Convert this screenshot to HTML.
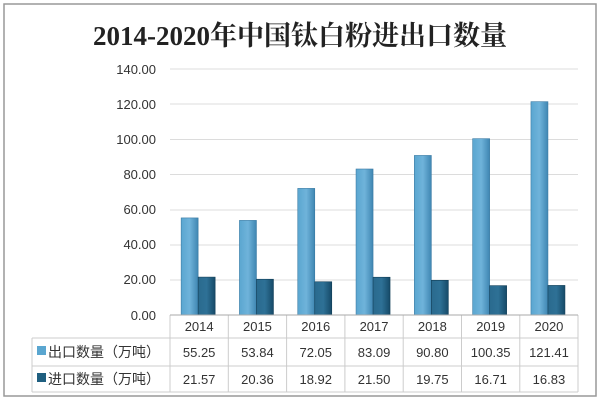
<!DOCTYPE html>
<html><head><meta charset="utf-8"><style>
body{margin:0;background:#fff;}
</style></head><body>
<svg width="600" height="401" xmlns="http://www.w3.org/2000/svg" font-family="Liberation Sans, Noto Sans CJK SC, sans-serif">
<defs>
<linearGradient id="e" x1="0" x2="1"><stop offset="0" stop-color="#5aa6d0"/><stop offset="0.5" stop-color="#6fb3da"/><stop offset="1" stop-color="#3f86b2"/></linearGradient>
<linearGradient id="i" x1="0" x2="1"><stop offset="0" stop-color="#2a6a8e"/><stop offset="0.5" stop-color="#2e7196"/><stop offset="1" stop-color="#164a68"/></linearGradient>
</defs>
<rect x="4" y="4" width="592" height="392" fill="#fff" stroke="#999" stroke-width="1.5"/>
<text x="300" y="45" text-anchor="middle" font-family="Liberation Serif, Noto Serif CJK SC, serif" font-size="27" font-weight="bold" fill="#222">2014-2020年中国钛白粉进出口数量</text>
<g stroke="#dcdcdc" stroke-width="1">
<line x1="170" x2="578" y1="69" y2="69"/><line x1="170" x2="578" y1="104" y2="104"/>
<line x1="170" x2="578" y1="139.5" y2="139.5"/><line x1="170" x2="578" y1="174.5" y2="174.5"/>
<line x1="170" x2="578" y1="210" y2="210"/><line x1="170" x2="578" y1="245" y2="245"/>
<line x1="170" x2="578" y1="280" y2="280"/>
</g>
<g font-size="13" fill="#333" text-anchor="end">
<text x="156" y="74">140.00</text><text x="156" y="109">120.00</text><text x="156" y="144">100.00</text>
<text x="156" y="179">80.00</text><text x="156" y="214">60.00</text><text x="156" y="249">40.00</text>
<text x="156" y="284">20.00</text><text x="156" y="320">0.00</text>
</g>
<g fill="url(#e)" stroke="#3a7aa3" stroke-width="0.6">
<rect x="181.15" y="217.92" width="17" height="97.08"/>
<rect x="239.45" y="220.4" width="17" height="94.6"/>
<rect x="297.75" y="188.4" width="17" height="126.6"/>
<rect x="356.05" y="169" width="17" height="146"/>
<rect x="414.35" y="155.45" width="17" height="159.55"/>
<rect x="472.65" y="138.67" width="17" height="176.33"/>
<rect x="530.95" y="101.67" width="17" height="213.33"/>
</g>
<g fill="url(#i)" stroke="#123f58" stroke-width="0.6">
<rect x="198.15" y="277.1" width="17" height="37.9"/>
<rect x="256.45" y="279.22" width="17" height="35.78"/>
<rect x="314.75" y="281.75" width="17" height="33.25"/>
<rect x="373.05" y="277.22" width="17" height="37.78"/>
<rect x="431.35" y="280.3" width="17" height="34.7"/>
<rect x="489.65" y="285.64" width="17" height="29.36"/>
<rect x="547.95" y="285.43" width="17" height="29.57"/>
</g>
<g stroke="#ccc" stroke-width="1" fill="none">
<line x1="170" y1="315" x2="170" y2="392"/>
<line x1="228.3" y1="315" x2="228.3" y2="392"/><line x1="286.6" y1="315" x2="286.6" y2="392"/>
<line x1="344.9" y1="315" x2="344.9" y2="392"/><line x1="403.2" y1="315" x2="403.2" y2="392"/>
<line x1="461.5" y1="315" x2="461.5" y2="392"/><line x1="519.8" y1="315" x2="519.8" y2="392"/>
<line x1="578" y1="315" x2="578" y2="392"/>
<line x1="32" y1="338" x2="578" y2="338"/><line x1="32" y1="366" x2="578" y2="366"/><line x1="32" y1="392" x2="578" y2="392"/>
<line x1="32" y1="338" x2="32" y2="392"/>
<line x1="170" y1="315" x2="578" y2="315" stroke="#aaa"/>
</g>
<g font-size="13" fill="#333" text-anchor="middle">
<text x="199.15" y="331">2014</text><text x="257.45" y="331">2015</text><text x="315.75" y="331">2016</text>
<text x="374.05" y="331">2017</text><text x="432.35" y="331">2018</text><text x="490.65" y="331">2019</text><text x="548.95" y="331">2020</text>
<text x="199.15" y="357">55.25</text><text x="257.45" y="357">53.84</text><text x="315.75" y="357">72.05</text>
<text x="374.05" y="357">83.09</text><text x="432.35" y="357">90.80</text><text x="490.65" y="357">100.35</text><text x="548.95" y="357">121.41</text>
<text x="199.15" y="384">21.57</text><text x="257.45" y="384">20.36</text><text x="315.75" y="384">18.92</text>
<text x="374.05" y="384">21.50</text><text x="432.35" y="384">19.75</text><text x="490.65" y="384">16.71</text><text x="548.95" y="384">16.83</text>
</g>
<g font-size="14" fill="#333">
<rect x="37" y="346" width="9" height="9" fill="#5aa6d0"/>
<text x="48" y="357">出口数量（万吨）</text>
<rect x="37" y="373" width="9" height="9" fill="#1f5f80"/>
<text x="48" y="384">进口数量（万吨）</text>
</g>
</svg>
</body></html>
